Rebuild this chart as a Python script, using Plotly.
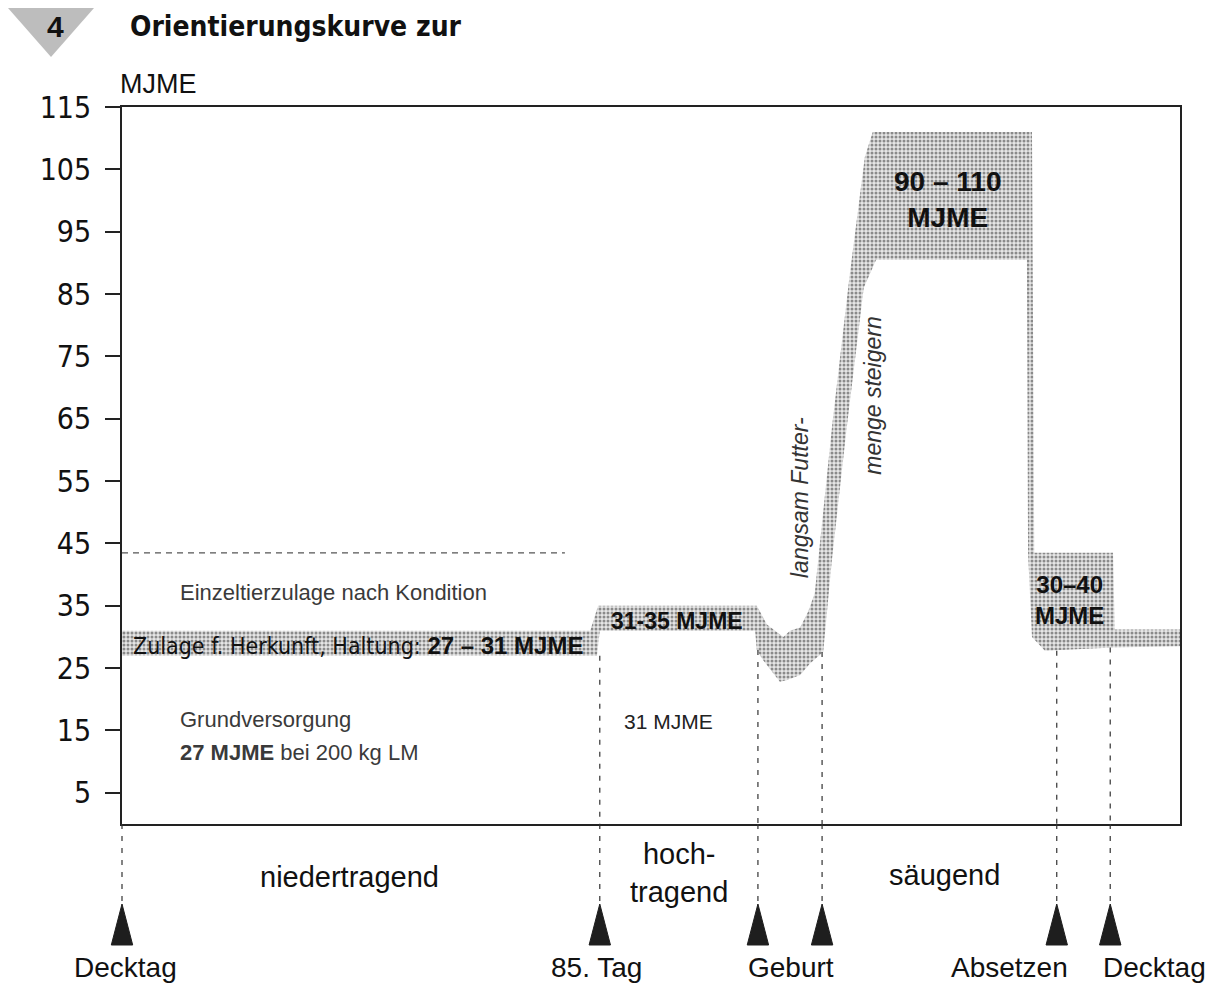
import plotly.graph_objects as go

# ---------------- data ----------------
y_ticks = [5, 15, 25, 35, 45, 55, 65, 75, 85, 95, 105, 115]

# schematic time axis (approx. days from Decktag)
band_upper_x = [0.0, 83.2, 84.6, 112.8, 114.6, 117.5, 118.7, 120.5, 121.9, 123.1,
                126.2, 129.3, 132.0, 133.4, 161.7, 162.1, 176.1, 176.4, 188.0]
band_upper_y = [31, 31, 35, 35, 32, 30, 31, 31.5, 34, 37,
                64, 88, 107, 111, 111, 43.5, 43.5, 31.2, 31.2]
band_lower_x = [188.0, 176.1, 164.0, 161.7, 161.0, 160.8, 134.0, 131.8, 128.7, 126.1,
                124.6, 122.3, 120.5, 118.2, 116.9, 113.9, 112.8, 112.5, 84.9, 84.4, 0.0]
band_lower_y = [28.5, 28.3, 27.8, 30, 43.5, 90.5, 90.5, 86, 63, 42,
                27.6, 25.8, 23.9, 23.1, 22.8, 26.3, 27.9, 31, 31, 27, 27]

event_x = [0.0, 84.9, 113.0, 124.4, 166.1, 175.6]
event_band_bottom = [None, 27.0, 27.9, 27.6, 27.8, 28.3]

event_labels = ["Decktag", "85. Tag", "Geburt", "Absetzen", "Decktag"]
event_label_x = [0.0, 84.9, 118.9, 166.1, 175.6]

phase_labels = ["niedertragend", "hoch-<br>tragend", "säugend"]
phase_x = [40.5, 98.9, 146.2]

einzeltier_level = 43.5      # dashed line "Einzeltierzulage"
einzeltier_end = 78.7

X_MAX = 188.0
Y_MAX = 115

# ---------------- layout geometry (window pixels) ----------------
OFFSET = 8                     # default body margin of the page
W, H = 1227 - OFFSET, 990 - OFFSET
PLOT_LEFT_W, PLOT_RIGHT_W, PLOT_TOP_W = 122, 1180, 107
AXIS_BOTTOM_W, STRIP_BOTTOM_W, PAPER_LEFT_W = 824, 978, 54
M_L = PAPER_LEFT_W - OFFSET
M_T = PLOT_TOP_W - OFFSET
M_R = W - (PLOT_RIGHT_W - OFFSET)
M_B = H - (STRIP_BOTTOM_W - OFFSET)
paper_w = W - M_L - M_R
paper_h = H - M_T - M_B
x_dom0 = (PLOT_LEFT_W - PAPER_LEFT_W) / paper_w
strip_h = STRIP_BOTTOM_W - AXIS_BOTTOM_W
y_dom0 = strip_h / paper_h
px_per_unit = (PLOT_RIGHT_W - PLOT_LEFT_W) / X_MAX
x2_min = -(PLOT_LEFT_W - PAPER_LEFT_W) / px_per_unit

FONT = "Liberation Sans, Arial, sans-serif"
NARROW = "Liberation Sans Narrow, Arial Narrow, DejaVu Sans Condensed, sans-serif"

fig = go.Figure()

# stippled band
fig.add_trace(go.Scatter(
    x=band_upper_x + band_lower_x,
    y=band_upper_y + band_lower_y,
    mode="lines", fill="toself",
    line=dict(width=0, color="rgba(0,0,0,0)"),
    fillcolor="#d2d2d2",
    fillpattern=dict(shape=".", fgcolor="#8a8a8a", bgcolor="#e6e6e6",
                     size=4, solidity=0.45, fillmode="replace"),
    hoverinfo="skip", showlegend=False, xaxis="x", yaxis="y"))

# dashed line for Einzeltierzulage
fig.add_trace(go.Scatter(
    x=[0, einzeltier_end], y=[einzeltier_level, einzeltier_level],
    mode="lines", line=dict(color="#555555", width=1.2, dash="6px,5px"),
    hoverinfo="skip", showlegend=False, xaxis="x", yaxis="y"))

# dashed event lines inside the plot
vx, vy = [], []
for ex, eb in zip(event_x, event_band_bottom):
    if eb is None:
        continue
    vx += [ex, ex, None]
    vy += [eb, 0, None]
fig.add_trace(go.Scatter(
    x=vx, y=vy, mode="lines",
    line=dict(color="#333333", width=1.2, dash="5px,7px"),
    hoverinfo="skip", showlegend=False, xaxis="x", yaxis="y"))

# event strip below the axis (y2 in px below the axis line)
TRI_TOP, TRI_BASE, TRI_HALF = -80, -121, 1.9
lx, ly, tx, ty = [], [], [], []
for ex in event_x:
    lx += [ex, ex, None]
    ly += [0, TRI_TOP, None]
    tx += [ex, ex - TRI_HALF, ex + TRI_HALF, ex, None]
    ty += [TRI_TOP, TRI_BASE, TRI_BASE, TRI_TOP, None]
fig.add_trace(go.Scatter(
    x=lx, y=ly, mode="lines",
    line=dict(color="#333333", width=1.2, dash="5px,7px"),
    hoverinfo="skip", showlegend=False, xaxis="x2", yaxis="y2"))
fig.add_trace(go.Scatter(
    x=tx, y=ty, mode="lines", fill="toself", fillcolor="#1e1e1e",
    line=dict(color="#1e1e1e", width=1),
    hoverinfo="skip", showlegend=False, xaxis="x2", yaxis="y2"))

ann = []
# event labels
anchors = ["center", "center", "center", "right", "left"]
shifts = [3, -3, 0, 13, -9]
for t, x, a, s in zip(event_labels, event_label_x, anchors, shifts):
    ann.append(dict(x=x, y=-143, xref="x2", yref="y2", text=t, showarrow=False,
                    xanchor=a, yanchor="middle", xshift=s,
                    font=dict(family=FONT, size=28, color="#111")))
# phase labels
for t, x, yv in zip(phase_labels, phase_x, [-53, -49, -51]):
    ann.append(dict(x=x, y=yv, xref="x2", yref="y2", text=t, showarrow=False,
                    xanchor="center", yanchor="middle", align="center",
                    font=dict(family=FONT, size=29, color="#111")))

def label(x, y, text, size, color="#111", family=FONT, xanchor="left",
          angle=0, align="left"):
    ann.append(dict(x=x, y=y, xref="x", yref="y", text=text, showarrow=False,
                    xanchor=xanchor, yanchor="middle", textangle=angle, align=align,
                    font=dict(family=family, size=size, color=color)))

label(10.0, 37.2, "Einzeltierzulage nach Kondition", 22, color="#3a3a3a")
label(1.6, 28.6,
      "Zulage f. Herkunft, Haltung: "
      "<span style='font-family:Liberation Sans, Arial, sans-serif; font-size:24px'>"
      "<b>27 – 31 MJME</b></span>", 23, family=NARROW)
label(10.0, 16.7, "Grundversorgung", 22, color="#3a3a3a")
label(10.0, 11.5, "<b>27 MJME</b> bei 200 kg LM", 22, color="#3a3a3a")
label(88.8, 16.4, "31 MJME", 21, color="#222")
label(86.6, 32.6, "<b>31-35 MJME</b>", 23)
label(146.6, 100.2, "<b>90 – 110<br>MJME</b>", 28, xanchor="center", align="center")
label(168.3, 36.0, "<b>30–40<br>MJME</b>", 24, xanchor="center", align="center")
label(120.6, 52.4, "<i>langsam Futter-</i>", 23, color="#333", xanchor="center", angle=-90)
label(133.4, 68.8, "<i>menge steigern</i>", 23, color="#333", xanchor="center", angle=-90)

# axis unit label
ann.append(dict(x=0, y=Y_MAX, xref="x", yref="y", text="MJME", showarrow=False,
                xanchor="left", yanchor="bottom", xshift=-4, yshift=6,
                font=dict(family=FONT, size=27, color="#111")))

# heading of the scan (figure badge + title)
def ppx(px):
    return (px - PAPER_LEFT_W) / paper_w

def ppy(py):
    return (STRIP_BOTTOM_W - py) / paper_h

shapes = [dict(type="path", xref="paper", yref="paper",
               path=f"M {ppx(8)},{ppy(OFFSET)} L {ppx(94)},{ppy(OFFSET)} L {ppx(51)},{ppy(57)} Z",
               fillcolor="#bdbdbd", line=dict(width=0), layer="below")]
ann.append(dict(x=ppx(55), y=ppy(OFFSET), xref="paper", yref="paper", text="<b>4</b>",
                showarrow=False, xanchor="center", yanchor="top",
                font=dict(family=FONT, size=30, color="#111")))
ann.append(dict(x=ppx(128), y=ppy(OFFSET), xref="paper", yref="paper",
                text="<b>Orientierungskurve zur</b>", showarrow=False,
                xanchor="left", yanchor="top",
                font=dict(family=NARROW, size=28, color="#111")))

fig.update_layout(
    width=W, height=H,
    margin=dict(l=M_L, r=M_R, t=M_T, b=M_B),
    paper_bgcolor="white", plot_bgcolor="white",
    showlegend=False,
    xaxis=dict(domain=[x_dom0, 1], range=[0, X_MAX], anchor="y",
               showline=True, linewidth=2.2, linecolor="#222", mirror=True,
               showticklabels=False, ticks="", showgrid=False, zeroline=False),
    yaxis=dict(domain=[y_dom0, 1], range=[0, Y_MAX], anchor="x",
               tickmode="array", tickvals=y_ticks, ticks="outside",
               ticklen=15, tickwidth=1.5, tickcolor="#222",
               showline=True, linewidth=1.6, linecolor="#222", mirror=True,
               showgrid=False, zeroline=False, ticklabelstandoff=8,
               tickfont=dict(family=NARROW, size=30, color="#111")),
    xaxis2=dict(domain=[0, 1], range=[x2_min, X_MAX], anchor="y2", visible=False),
    yaxis2=dict(domain=[0, y_dom0], range=[-strip_h, 0], anchor="x2", visible=False),
    annotations=ann,
    shapes=shapes,
)

fig.write_html("out.html")
